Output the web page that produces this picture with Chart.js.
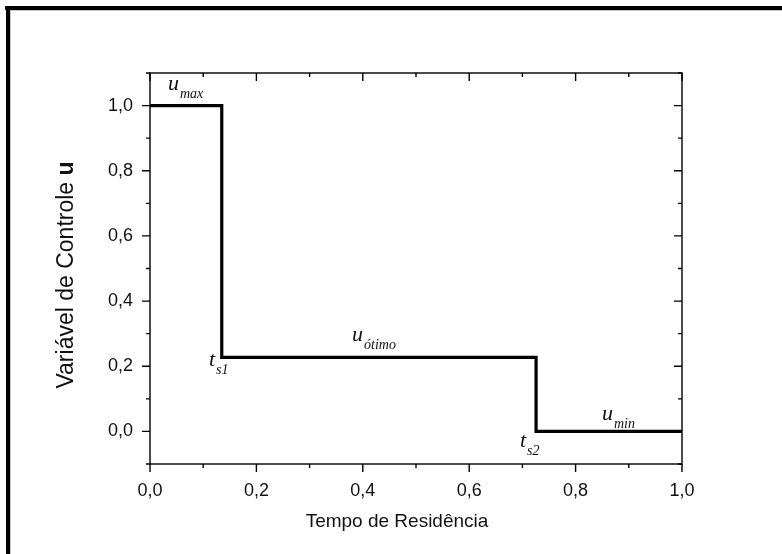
<!DOCTYPE html>
<html>
<head>
<meta charset="utf-8">
<script src="https://cdn.jsdelivr.net/npm/chart.js@4/dist/chart.umd.min.js"></script>
<style>
  html, body { margin: 0; padding: 0; background: #fff; }
  #wrap { width: 782px; height: 554px; position: relative; }
</style>
</head>
<body>
<div id="wrap"><canvas id="c" width="782" height="554"></canvas></div>
<script>
// ---- data ----
const residenceTime = [0.0, 0.1349, 0.7257, 1.0];   // switching times (x)
const controlU      = [1.0, 0.227, 0.0, 0.0];        // control level after each time
const xTickValues   = [0.0, 0.2, 0.4, 0.6, 0.8, 1.0];
const yTickValues   = [0.0, 0.2, 0.4, 0.6, 0.8, 1.0];
const xTitle = 'Tempo de Residência';
const yTitleMain = 'Variável de Controle ';
const yTitleBold = 'u';
const annoMain = ['u', 't', 'u', 't', 'u'];
const annoSub  = ['max', 's1', 'ótimo', 's2', 'min'];
const annoX    = [0.0338, 0.1109, 0.3797, 0.6955, 0.8496];
const annoY    = [1.047, 0.2003, 0.277, -0.048, 0.0347];

const fmt = v => v.toFixed(1).replace('.', ',');
const SANS = '"Liberation Sans", Arial, sans-serif';
const SERIF = '"Liberation Serif", "Times New Roman", serif';

const decor = {
  id: 'decor',
  beforeDraw(chart) {
    const ctx = chart.ctx;
    ctx.save();
    ctx.fillStyle = '#fff';
    ctx.fillRect(0, 0, chart.width, chart.height);
    // outer frame (top & left)
    ctx.fillStyle = '#000';
    ctx.fillRect(5, 6, 777, 4);
    ctx.fillRect(6, 6, 4, 548);
    ctx.fillStyle = '#c8c8c8';
    ctx.fillRect(10, 10, 772, 1);
    ctx.fillRect(10, 10, 1, 544);
    ctx.restore();
  },
  afterDraw(chart) {
    const ctx = chart.ctx;
    const a = chart.chartArea;
    const xs = chart.scales.x, ys = chart.scales.y;
    ctx.save();
    ctx.strokeStyle = '#000';
    ctx.lineWidth = 1.4;
    ctx.strokeRect(a.left, a.top, a.right - a.left, a.bottom - a.top);
    ctx.beginPath();
    for (let i = 0; i <= 10; i++) {
      const v = i / 10, major = i % 2 === 0, len = major ? 8 : 4;
      const px = xs.getPixelForValue(v);
      ctx.moveTo(px, a.bottom); ctx.lineTo(px, a.bottom + len);
      ctx.moveTo(px, a.top); ctx.lineTo(px, a.top + len);
    }
    for (let i = -1; i <= 11; i++) {
      const v = i / 10, major = i % 2 === 0, len = major ? 8 : 4;
      const py = ys.getPixelForValue(v);
      ctx.moveTo(a.left, py); ctx.lineTo(a.left - len, py);
      ctx.moveTo(a.right, py); ctx.lineTo(a.right - len, py);
    }
    ctx.stroke();

    // axis titles
    ctx.fillStyle = '#111';
    ctx.font = '19px ' + SANS;
    ctx.textAlign = 'center';
    ctx.textBaseline = 'alphabetic';
    ctx.fillText(xTitle, 397, 527);

    ctx.translate(73, 275);
    ctx.rotate(-Math.PI / 2);
    ctx.font = '23px ' + SANS;
    const w1 = ctx.measureText(yTitleMain).width;
    ctx.font = 'bold 23px ' + SANS;
    const w2 = ctx.measureText(yTitleBold).width;
    const start = -(w1 + w2) / 2;
    ctx.textAlign = 'left';
    ctx.font = '23px ' + SANS;
    ctx.fillText(yTitleMain, start, 0);
    ctx.font = 'bold 23px ' + SANS;
    ctx.fillText(yTitleBold, start + w1, 0);
    ctx.setTransform(1, 0, 0, 1, 0, 0);

    // annotations
    ctx.textAlign = 'left';
    for (let i = 0; i < annoMain.length; i++) {
      const px = xs.getPixelForValue(annoX[i]);
      const py = ys.getPixelForValue(annoY[i]);
      ctx.font = 'italic 22px ' + SERIF;
      ctx.fillText(annoMain[i], px, py);
      const w = ctx.measureText(annoMain[i]).width;
      ctx.font = 'italic 14px ' + SERIF;
      ctx.fillText(annoSub[i], px + w + 1, py + 8);
    }
    ctx.restore();
  }
};

new Chart(document.getElementById('c'), {
  type: 'line',
  data: {
    datasets: [{
      data: residenceTime.map((t, i) => ({ x: t, y: controlU[i] })),
      borderColor: '#000',
      borderWidth: 3.2,
      stepped: 'before',
      pointRadius: 0,
      fill: false,
      clip: false
    }]
  },
  options: {
    responsive: false,
    animation: false,
    devicePixelRatio: 1,
    layout: { padding: { left: 0, top: 73, right: 100, bottom: 0 } },
    plugins: { legend: { display: false }, tooltip: { enabled: false } },
    scales: {
      x: {
        type: 'linear', min: 0, max: 1,
        afterFit(s) { s.height = 90; },
        afterBuildTicks(s) { s.ticks = xTickValues.map(v => ({ value: v })); },
        grid: { display: false, drawTicks: false },
        border: { display: false },
        ticks: { color: '#111', font: { family: SANS, size: 18 }, padding: 16, maxRotation: 0,
                 callback: v => fmt(v) }
      },
      y: {
        type: 'linear', min: -0.1, max: 1.1,
        afterFit(s) { s.width = 150; },
        afterBuildTicks(s) { s.ticks = yTickValues.map(v => ({ value: v })); },
        grid: { display: false, drawTicks: false },
        border: { display: false },
        ticks: { color: '#111', font: { family: SANS, size: 18 }, padding: 17,
                 callback: v => fmt(v) }
      }
    }
  },
  plugins: [decor]
});
</script>
</body>
</html>
